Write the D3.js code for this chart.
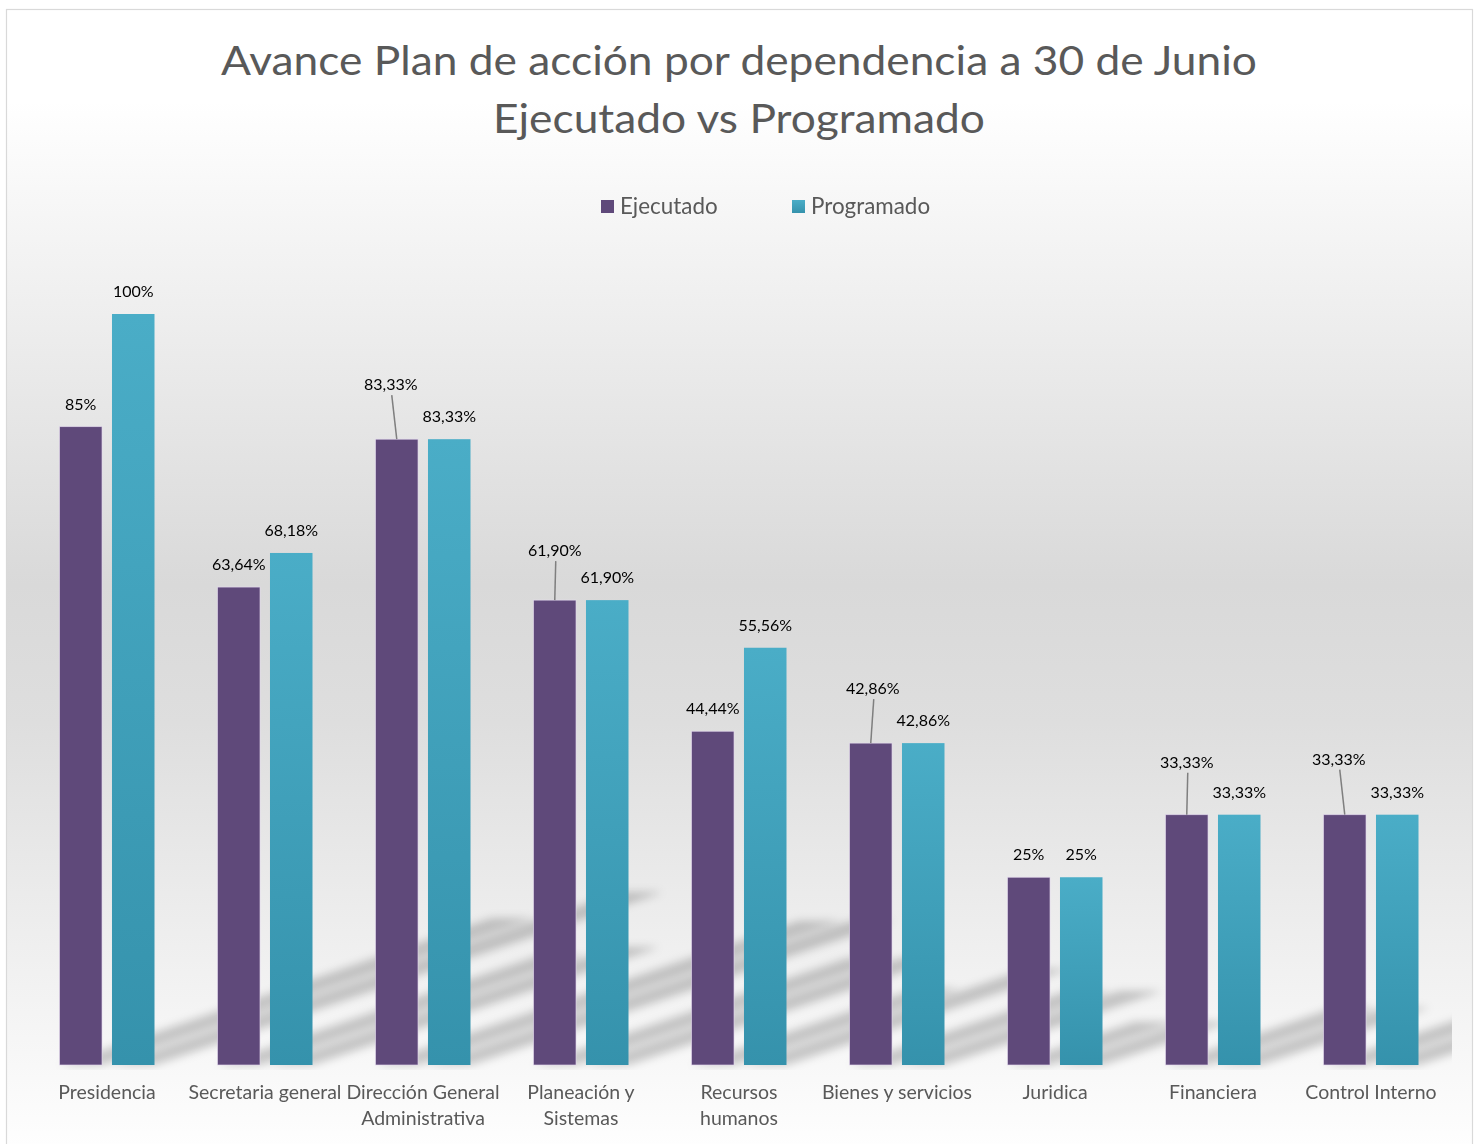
<!DOCTYPE html>
<html><head><meta charset="utf-8">
<script src="https://cdn.jsdelivr.net/npm/d3@7"></script>
<style>html,body{margin:0;padding:0;background:#fff;}svg{display:block;}</style>
</head><body>
<script>
// ---- data ----
const categories = ["Presidencia","Secretaria general","Dirección General Administrativa","Planeación y Sistemas","Recursos humanos","Bienes y servicios","Juridica","Financiera","Control Interno"];
const categoryLines = [["Presidencia"],["Secretaria general"],["Dirección General","Administrativa"],["Planeación y","Sistemas"],["Recursos","humanos"],["Bienes y servicios"],["Juridica"],["Financiera"],["Control Interno"]];
const series = ["Ejecutado","Programado"];
const ejecutado = [0.85,0.6364,0.8333,0.6190,0.4444,0.4286,0.25,0.3333,0.3333];
const programado = [1.00,0.6818,0.8333,0.6190,0.5556,0.4286,0.25,0.3333,0.3333];
const ejecutadoLabels = ["85%","63,64%","83,33%","61,90%","44,44%","42,86%","25%","33,33%","33,33%"];
const programadoLabels = ["100%","68,18%","83,33%","61,90%","55,56%","42,86%","25%","33,33%","33,33%"];
// layout: manual nudges of Ejecutado data labels (px), as in the original
const ejecLabelNudge = [[0,0],[0,0],[-6,-32],[0,-27],[0,0],[2,-32],[0,0],[0,-30],[-6,-33]];

const W=1480,H=1144;
const svg=d3.select("body").append("svg").attr("width",W).attr("height",H);
const defs=svg.append("defs");
const bg=defs.append("linearGradient").attr("id","bg").attr("x1",0).attr("y1",0).attr("x2",0).attr("y2",1);
[[0,"#ffffff"],[0.08,"#ffffff"],[0.21,"#f3f3f3"],[0.5,"#d9d9d9"],[0.62,"#dedede"],[0.78,"#ececec"],[0.93,"#f9f9f9"],[1,"#ffffff"]]
 .forEach(s=>bg.append("stop").attr("offset",s[0]).attr("stop-color",s[1]));
const pg=defs.append("linearGradient").attr("id","pg").attr("x1",0).attr("y1",0).attr("x2",0).attr("y2",1);
pg.append("stop").attr("offset",0).attr("stop-color","#4aadc7");
pg.append("stop").attr("offset",1).attr("stop-color","#3592ac");
const bl=defs.append("filter").attr("id","blur").attr("x","-20%").attr("y","-20%").attr("width","140%").attr("height","140%");
bl.append("feGaussianBlur").attr("stdDeviation",4);
defs.append("clipPath").attr("id","plotclip").append("rect").attr("x",28).attr("y",240).attr("width",1424).attr("height",830);

svg.append("rect").attr("x",6.5).attr("y",9.5).attr("width",1466).attr("height",1150)
  .attr("fill","url(#bg)").attr("stroke","#d9d9d9").attr("stroke-width",1.2);

const font="Lato, 'Open Sans', sans-serif";
// title
const title=svg.append("text").attr("font-family",font).attr("fill","#595959").attr("font-size",41).attr("text-anchor","middle");
title.append("tspan").attr("x",739).attr("y",75).attr("textLength",1036).attr("lengthAdjust","spacingAndGlyphs").text("Avance Plan de acción por dependencia a 30 de Junio");
title.append("tspan").attr("x",739).attr("y",133).attr("textLength",492).attr("lengthAdjust","spacingAndGlyphs").text("Ejecutado vs Programado");

// scales
const x0=d3.scaleBand().domain(categories).range([28,1450]).paddingInner(63/158).paddingOuter(31.5/158);
const x1=d3.scaleBand().domain(series).range([0,x0.bandwidth()]).paddingInner(0.19).paddingOuter(0);
const y=d3.scaleLinear().domain([0,1]).range([1065,314]);
const fills={Ejecutado:"#5f497a",Programado:"url(#pg)"};

const rows=categories.map((c,i)=>({c,i,vals:[{s:"Ejecutado",v:ejecutado[i],l:ejecutadoLabels[i]},{s:"Programado",v:programado[i],l:programadoLabels[i]}]}));

// perspective shadows
const sh=svg.append("g").attr("clip-path","url(#plotclip)").append("g").attr("filter","url(#blur)");
rows.forEach(r=>r.vals.forEach(d=>{
  const xa=x0(r.c)+x1(d.s), xb=xa+x1.bandwidth(), y0=y(0), h=y(0)-y(d.v);
  const dy=h*0.23, dx=dy/0.34;
  sh.append("path").attr("d",`M${xa},${y0}L${xb},${y0}L${xb+dx},${y0-dy}L${xa+dx},${y0-dy}Z`)
    .attr("fill","#000").attr("opacity",0.2);
}));

// bars
const g=svg.append("g");
rows.forEach(r=>r.vals.forEach(d=>{
  g.append("rect").attr("x",x0(r.c)+x1(d.s)).attr("y",y(d.v)).attr("width",x1.bandwidth()).attr("height",y(0)-y(d.v))
   .attr("fill",fills[d.s]).attr("stroke",d.s==="Ejecutado"?"rgba(230,220,240,0.8)":"none").attr("stroke-width",0.8);
}));

// data labels
const lab=svg.append("g").attr("font-family",font).attr("font-size",16).attr("fill","#000").attr("text-anchor","middle");
rows.forEach(r=>r.vals.forEach((d,k)=>{
  const cx=x0(r.c)+x1(d.s)+x1.bandwidth()/2;
  const nudge=k===0?ejecLabelNudge[r.i]:[0,0];
  const ly=y(d.v)-17+nudge[1], lx=cx+nudge[0];
  if(nudge[1]!==0){
    lab.append("line").attr("x1",lx+1).attr("y1",ly+5).attr("x2",cx).attr("y2",y(d.v))
      .attr("stroke","#7f7f7f").attr("stroke-width",1.5);
  }
  lab.append("text").attr("x",lx).attr("y",ly).text(d.l);
}));

// category axis labels
const ax=svg.append("g").attr("font-family",font).attr("font-size",19.5).attr("fill","#595959").attr("text-anchor","middle");
rows.forEach(r=>{
  const t=ax.append("text").attr("x",x0(r.c)+x0.bandwidth()/2).attr("y",1099);
  categoryLines[r.i].forEach((ln,j)=>t.append("tspan").attr("x",x0(r.c)+x0.bandwidth()/2).attr("dy",j?26:0).text(ln));
});

// legend
const lg=svg.append("g").attr("font-family",font).attr("font-size",22.4).attr("fill","#595959");
[[601,"Ejecutado","#5f497a"],[792,"Programado","url(#pg)"]].forEach(([lx,name,f])=>{
  lg.append("rect").attr("x",lx).attr("y",200).attr("width",13).attr("height",13).attr("fill",f);
  lg.append("text").attr("x",lx+19).attr("y",214).text(name);
});
</script>
</body></html>
